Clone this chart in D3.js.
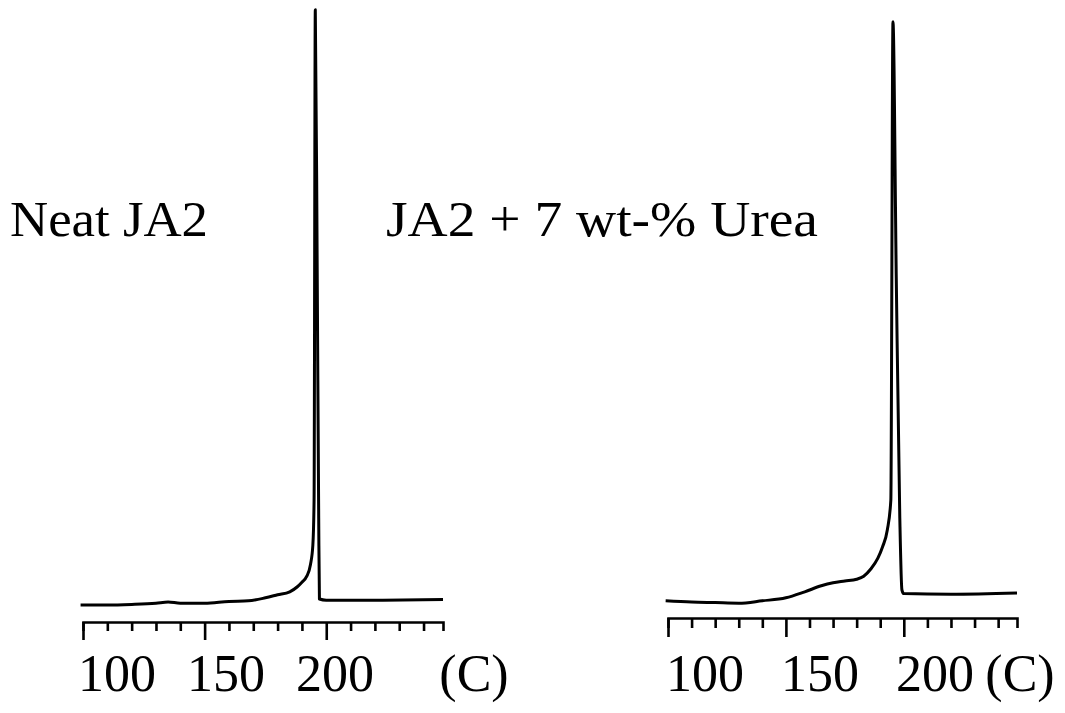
<!DOCTYPE html>
<html>
<head>
<meta charset="utf-8">
<script src="https://cdn.jsdelivr.net/npm/d3@7"></script>
<style>
  body { margin: 0; background: #fff; }
</style>
</head>
<body>
<div id="chart"></div>
<script>
// temperatures (C) and signal (arbitrary units, 0-100)
var neatTemp   = [99, 110, 120, 130, 135, 140, 150, 160, 168, 175, 180, 185, 188, 190, 192, 193.5, 194.5, 195, 195.5, 196.3, 196.9, 197.2, 200, 220, 248];
var neatSignal = [0.5, 0.5, 0.6, 0.8, 1.0, 0.8, 0.8, 1.1, 1.2, 1.7, 2.2, 2.7, 3.5, 4.3, 5.3, 7.2, 10.5, 18, 99.7, 55, 15, 1.5, 1.3, 1.3, 1.4];

var ureaTemp   = [99, 110, 120, 130, 140, 150, 158, 165, 170, 175, 180, 183, 186, 189, 191, 193, 194.5, 195.4, 196.8, 198.3, 199.2, 200, 220, 248];
var ureaSignal = [1.2, 1.0, 0.9, 0.8, 1.2, 1.7, 2.7, 3.7, 4.2, 4.5, 4.8, 5.3, 6.5, 8.3, 10.2, 13, 18, 97.7, 55, 15, 3, 2.4, 2.3, 2.5];

var tickValues  = [100, 110, 120, 130, 140, 150, 160, 170, 180, 190, 200, 210, 220, 230, 240];
var labelValues = [100, 150, 200];
var titles      = ["Neat JA2", "JA2 + 7 wt-% Urea"];
var unitLabel   = "(C)";

var W = 1065, H = 713;
var serif = "'Liberation Serif', Tinos, 'Times New Roman', Times, serif";

var svg = d3.select("#chart").append("svg")
    .attr("width", W).attr("height", H);

var y = d3.scaleLinear().domain([0, 100]).range([608, 8]);

var panels = [
  {temp: neatTemp, sig: neatSignal, title: titles[0], titleX: 10, titleW: 198,
   x0: 83, x1: 443, axisY: 622, major: 18, minor: 9,
   lab0: 117, lab1: 335, unitX: 474},
  {temp: ureaTemp, sig: ureaSignal, title: titles[1], titleX: 386, titleW: 432,
   x0: 668, x1: 1017, axisY: 618, major: 19, minor: 10,
   lab0: 705, lab1: 935, unitX: 1020}
];

panels.forEach(function(p) {
  var x = d3.scaleLinear().domain([100, 248]).range([p.x0, p.x1]);
  // labels were printed on a slightly different spacing than the ticks
  var xl = d3.scaleLinear().domain([100, 200]).range([p.lab0, p.lab1]);

  var line = d3.line()
      .curve(d3.curveMonotoneX)
      .x(function(d) { return x(d[0]); })
      .y(function(d) { return y(d[1]); });

  var pts = p.temp.map(function(t, i) { return [t, p.sig[i]]; });

  svg.append("path")
     .datum(pts)
     .attr("d", line)
     .attr("fill", "none")
     .attr("stroke", "#000")
     .attr("stroke-width", 3)
     .attr("stroke-linejoin", "round");

  var axis = d3.axisBottom(x)
      .tickValues(tickValues)
      .tickSizeOuter(0)
      .tickSize(p.minor)
      .tickFormat("");

  var g = svg.append("g")
     .attr("transform", "translate(0," + p.axisY + ")")
     .call(axis);

  g.select(".domain").attr("stroke", "#000").attr("stroke-width", 2.6);
  g.selectAll(".tick line")
   .attr("stroke", "#000")
   .attr("stroke-width", 2.6)
   .attr("y2", function(d) { return d % 50 === 0 ? p.major : p.minor; });

  svg.selectAll(null)
     .data(labelValues)
     .enter()
     .append("text")
     .attr("x", function(d) { return xl(d); })
     .attr("y", 691)
     .attr("text-anchor", "middle")
     .attr("font-family", serif)
     .attr("font-size", 52)
     .text(function(d) { return d; });

  svg.append("text")
     .attr("x", p.unitX)
     .attr("y", 691)
     .attr("text-anchor", "middle")
     .attr("font-family", serif)
     .attr("font-size", 52)
     .text(unitLabel);

  svg.append("text")
     .attr("x", p.titleX)
     .attr("y", 236)
     .attr("font-family", serif)
     .attr("font-size", 50)
     .attr("textLength", p.titleW)
     .attr("lengthAdjust", "spacingAndGlyphs")
     .text(p.title);
});
</script>
</body>
</html>
